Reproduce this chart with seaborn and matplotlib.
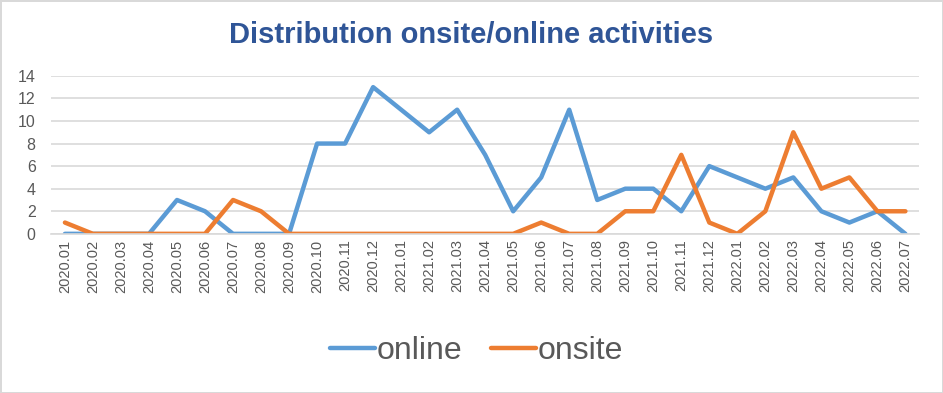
import matplotlib
matplotlib.use("Agg")
import matplotlib.pyplot as plt
import pandas as pd
import seaborn as sns
from matplotlib.ticker import FixedLocator

# data
months = ["2020.01", "2020.02", "2020.03", "2020.04", "2020.05", "2020.06", "2020.07", "2020.08",
          "2020.09", "2020.10", "2020.11", "2020.12", "2021.01", "2021.02", "2021.03", "2021.04",
          "2021.05", "2021.06", "2021.07", "2021.08", "2021.09", "2021.10", "2021.11", "2021.12",
          "2022.01", "2022.02", "2022.03", "2022.04", "2022.05", "2022.06", "2022.07"]
online = [0, 0, 0, 0, 3, 2, 0, 0, 0, 8, 8, 13, 11, 9, 11, 7, 2, 5, 11, 3, 4, 4, 2, 6, 5, 4, 5, 2, 1, 2, 0]
onsite = [1, 0, 0, 0, 0, 0, 3, 2, 0, 0, 0, 0, 0, 0, 0, 0, 0, 1, 0, 0, 2, 2, 7, 1, 0, 2, 9, 4, 5, 2, 2]

df = pd.DataFrame({"month": months, "online": online, "onsite": onsite})
df_long = df.melt(id_vars="month", var_name="series", value_name="count")

sns.set_style("white")
plt.rcParams["font.family"] = ["Liberation Sans", "DejaVu Sans"]

fig = plt.figure(figsize=(9.43, 3.93), dpi=100, edgecolor="#D9D9D9", linewidth=2)
ax = fig.add_axes([0.054, 0.405, 0.921, 0.402])

sns.lineplot(data=df_long, x="month", y="count", hue="series", sort=False,
             palette={"online": "#5B9BD5", "onsite": "#ED7D31"}, linewidth=3.2, ax=ax)

ax.set_xlim(-0.5, len(months) - 0.5)
ax.set_ylim(0, 14)
ax.set_yticks(range(0, 15, 2))
ax.yaxis.grid(True, color="#D9D9D9", linewidth=1.2)
ax.set_axisbelow(True)
for s in ["top", "right", "left"]:
    ax.spines[s].set_visible(False)
ax.spines["bottom"].set_color("#D9D9D9")
ax.spines["bottom"].set_linewidth(1.2)
ax.set_xlabel("")
ax.set_ylabel("")

ax.tick_params(axis="y", length=0, labelsize=11.5, labelcolor="#595959", pad=11)
ax.tick_params(axis="x", which="major", length=0, labelsize=10.5, labelcolor="#595959",
               labelrotation=90, pad=4)
ax.xaxis.set_minor_locator(FixedLocator([i - 0.5 for i in range(len(months) + 1)]))
ax.tick_params(axis="x", which="minor", length=5, color="#D9D9D9", width=1.2)

fig.text(0.5, 0.91, "Distribution onsite/online activities", ha="center", va="center",
         fontsize=21, fontweight="bold", color="#2F5597",
         family=["Liberation Sans Narrow", "Liberation Sans", "DejaVu Sans"])

ax.legend(loc="center", bbox_to_anchor=(0.5 - 0.01, -0.74), ncol=2, frameon=False,
          fontsize=23, handlelength=1.4, handletextpad=0.05, columnspacing=0.9,
          labelcolor="#595959")

fig.savefig("out.png", dpi=100)
